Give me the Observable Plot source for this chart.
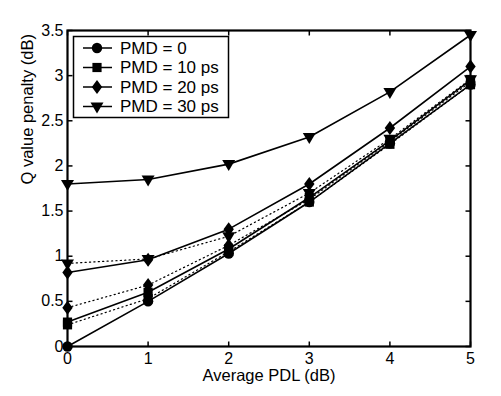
<!DOCTYPE html>
<html><head><meta charset="utf-8">
<script src="https://cdn.jsdelivr.net/npm/d3@7"></script>
<script src="https://cdn.jsdelivr.net/npm/@observablehq/plot@0.6"></script>
<style>
body{margin:0;background:#fff}
#c{position:relative;width:501px;height:396px;background:#fff}
#c svg{display:block}
#legend{position:absolute;left:0;top:0}
</style>
</head><body><div id="c"></div>
<script>
// ---- data ----
const pdl = [0, 1, 2, 3, 4, 5];
const pmd0 = [0, 0.5, 1.03, 1.6, 2.25, 2.9];
const pmd10 = [0.27, 0.6, 1.08, 1.65, 2.28, 2.95];
const pmd20 = [0.82, 0.96, 1.3, 1.8, 2.42, 3.1];
const pmd30 = [1.8, 1.85, 2.02, 2.32, 2.82, 3.45];
const pmd30dotted = [0.92, 0.97, 1.22, 1.7, 2.3, 2.96];
const pmd20dotted = [0.43, 0.68, 1.12, 1.63, 2.27, 2.93];
const pmd10dotted = [0.24, 0.53, 1.05, 1.6, 2.24, 2.9];
const xTicks = [0, 1, 2, 3, 4, 5];
const yTicks = [0, 0.5, 1, 1.5, 2, 2.5, 3, 3.5];
const yTickLabels = ["0", "0.5", "1", "1.5", "2", "2.5", "3", "3.5"];
const legendLabels = ["PMD = 0", "PMD = 10 ps", "PMD = 20 ps", "PMD = 30 ps"];
const legendShapes = ["circle", "square", "diamond", "triangle"];
const xLabel = "Average PDL (dB)";
const yLabel = "Q value penalty (dB)";

// ---- symbols ----
const sym = {
  circle: {draw(c){ const r = 5.2; c.moveTo(r, 0); c.arc(0, 0, r, 0, 2*Math.PI); c.closePath(); }},
  square: {draw(c){ const h = 4.6; c.rect(-h, -h, 2*h, 2*h); }},
  diamond: {draw(c){ c.moveTo(0, -7); c.lineTo(5.2, 0); c.lineTo(0, 7); c.lineTo(-5.2, 0); c.closePath(); }},
  triangle: {draw(c){ c.moveTo(-6.5, -4); c.lineTo(6.5, -4); c.lineTo(0, 7); c.closePath(); }}
};
const tickSym = {
  up: {draw(c){ c.moveTo(0, 0); c.lineTo(0, -5); }},
  down: {draw(c){ c.moveTo(0, 0); c.lineTo(0, 5); }},
  right: {draw(c){ c.moveTo(0, 0); c.lineTo(5, 0); }},
  left: {draw(c){ c.moveTo(0, 0); c.lineTo(-5, 0); }}
};

const series = [
  {name: "pmd0", values: pmd0, shape: "circle", dotted: false},
  {name: "pmd10", values: pmd10, shape: "square", dotted: false},
  {name: "pmd20", values: pmd20, shape: "diamond", dotted: false},
  {name: "pmd30", values: pmd30, shape: "triangle", dotted: false},
  {name: "pmd30d", values: pmd30dotted, shape: "triangle", dotted: true},
  {name: "pmd20d", values: pmd20dotted, shape: "diamond", dotted: true},
  {name: "pmd10d", values: pmd10dotted, shape: "square", dotted: true}
];
const rows = series.flatMap(s => s.values.map((v, i) => ({x: pdl[i], y: v, name: s.name, shape: s.shape, dotted: s.dotted})));
const solidRows = rows.filter(d => !d.dotted);
const dottedRows = rows.filter(d => d.dotted);

const font = "'Liberation Sans', Arial, Helvetica, sans-serif";

const marks = [
  Plot.line(dottedRows, {x: "x", y: "y", z: "name", stroke: "black", strokeWidth: 1.2, strokeDasharray: "1.2,3.2", strokeLinecap: "round"}),
  Plot.line(solidRows, {x: "x", y: "y", z: "name", stroke: "black", strokeWidth: 1.6}),
  ...legendShapes.map(sh => Plot.dot(rows.filter(d => d.shape === sh), {x: "x", y: "y", symbol: () => sym[sh], fill: "black", stroke: "none"})),
  Plot.frame({stroke: "black", strokeWidth: 2.2}),
  Plot.dot(xTicks, {x: d => d, y: () => yTicks[0], symbol: () => tickSym.up, fill: "none", stroke: "black", strokeWidth: 1.5}),
  Plot.dot(xTicks, {x: d => d, y: () => yTicks[yTicks.length - 1], symbol: () => tickSym.down, fill: "none", stroke: "black", strokeWidth: 1.5}),
  Plot.dot(yTicks, {y: d => d, x: () => xTicks[0], symbol: () => tickSym.right, fill: "none", stroke: "black", strokeWidth: 1.5}),
  Plot.dot(yTicks, {y: d => d, x: () => xTicks[xTicks.length - 1], symbol: () => tickSym.left, fill: "none", stroke: "black", strokeWidth: 1.5}),
  Plot.axisX(xTicks, {tickSize: 0, tickPadding: 6, label: null, fontSize: 16}),
  Plot.axisY(yTicks, {tickSize: 0, tickPadding: 4, label: null, fontSize: 16, tickFormat: d => yTickLabels[yTicks.indexOf(d)]}),
  Plot.text([xLabel], {frameAnchor: "bottom", dy: 34.5, lineAnchor: "bottom", text: d => d, fontSize: 16.5, fill: "black"}),
  Plot.text([yLabel], {frameAnchor: "left", dx: -40, dy: -4, rotate: -90, text: d => d, fontSize: 16.5, fill: "black"})
];

const chart = Plot.plot({
  width: 501, height: 396,
  marginLeft: 67, marginRight: 31, marginTop: 30, marginBottom: 50,
  x: {domain: [0, 5]},
  y: {domain: [0, 3.5]},
  style: {fontFamily: font, fontSize: "16px", color: "black", background: "white"},
  marks
});
const c = document.getElementById("c");
c.appendChild(chart);

// ---- legend overlay ----
const lg = d3.select(c).append("svg").attr("id", "legend").attr("width", 501).attr("height", 396)
  .style("font-family", font);
const box = {x: 73.5, y: 36.5, w: 155, h: 81};
lg.append("rect").attr("x", box.x).attr("y", box.y).attr("width", box.w).attr("height", box.h)
  .attr("fill", "white").attr("stroke", "black").attr("stroke-width", 1.5);
legendLabels.forEach((lab, i) => {
  const y = box.y + 11.5 + i * 19.5;
  const g = lg.append("g");
  g.append("line").attr("x1", 83).attr("x2", 112).attr("y1", y).attr("y2", y).attr("stroke", "black").attr("stroke-width", 1.5);
  const p = d3.path(); sym[legendShapes[i]].draw(p);
  g.append("path").attr("d", p.toString()).attr("transform", `translate(97,${y})`).attr("fill", "black");
  g.append("text").attr("x", 120).attr("y", y).attr("dy", "0.35em").attr("font-size", 17).attr("fill", "black").text(lab);
});
</script>
</body></html>
